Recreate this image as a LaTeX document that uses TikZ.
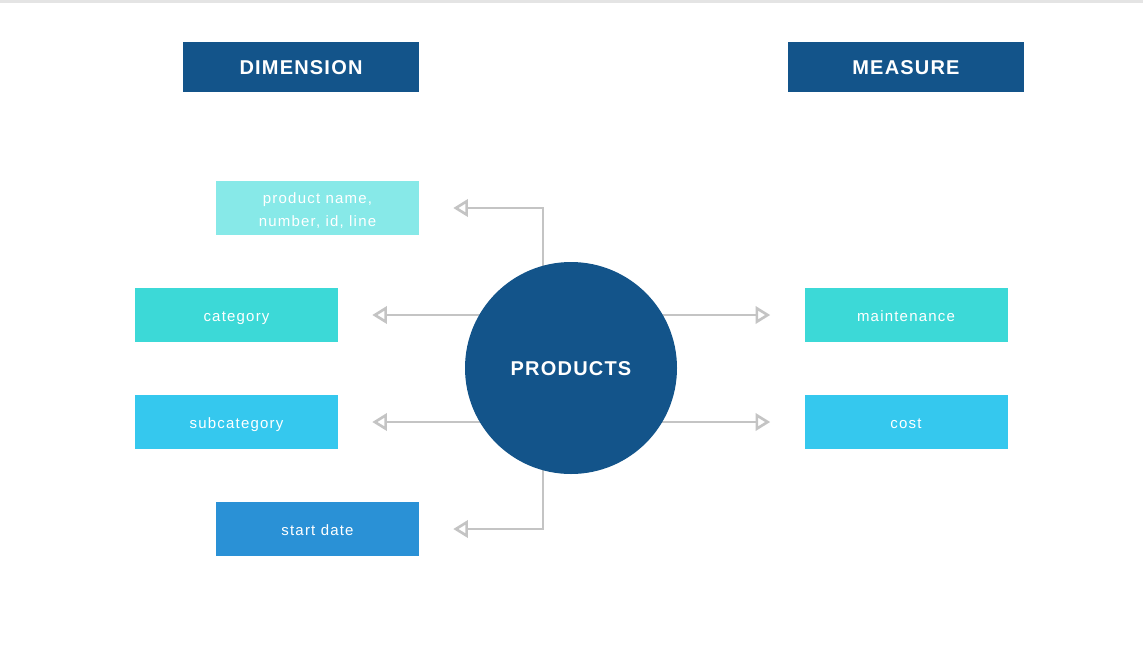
\documentclass[tikz,border=0pt]{standalone}
\usepackage{fontspec}
\setmainfont{Liberation Sans}
\newfontfamily\headfam[LetterSpace=6]{Liberation Sans}
\newfontfamily\itemfam[LetterSpace=8]{Liberation Sans}
\usetikzlibrary{arrows.meta,backgrounds}

\definecolor{darkblue}{HTML}{13548A}
\definecolor{palecyan}{HTML}{87E9E8}
\definecolor{midcyan}{HTML}{3CD9D7}
\definecolor{skyblue}{HTML}{35C8EE}
\definecolor{brightblue}{HTML}{2A91D6}
\definecolor{linkgray}{HTML}{C4C4C4}
\definecolor{bargray}{HTML}{E4E4E4}

\tikzset{
  head/.style={fill=darkblue, text=white, minimum width=177pt, minimum height=37.5pt,
    inner sep=0pt, text height=11pt, text depth=0pt,
    font=\headfam\bfseries\fontsize{15}{18}\selectfont},
  item/.style={text=white, minimum width=152.25pt, minimum height=40.5pt, inner sep=0pt,
    text height=10.25pt, text depth=0.5pt,
    align=center, font=\itemfam\fontsize{11.25}{17.25}\selectfont},
  link/.style={draw=linkgray, line width=2pt,
    -{Triangle[open,length=11pt,width=13pt]}, shorten >=25.5pt},
}

\begin{document}
\begin{tikzpicture}[x=0.75pt,y=-0.75pt]
  \useasboundingbox (0,0) rectangle (1143,647);
  \fill[bargray] (0,0) rectangle (1143,3);

  \node[head] (dim) at (301,67) {DIMENSION};
  \node[head] (meas) at (906,67) {MEASURE};

  \node[circle, fill=darkblue, minimum size=159pt, inner sep=0pt, text=white,
    text height=11pt, text depth=0pt,
    font=\headfam\bfseries\fontsize{15}{18}\selectfont] (prod) at (571,368) {PRODUCTS};

  \node[item, fill=palecyan, text height=27.5pt, text depth=0pt] (pname) at (317.5,208) {product name,\\number, id, line};
  \node[item, fill=midcyan] (cat) at (236.5,315) {category};
  \node[item, fill=skyblue] (subcat) at (236.5,422) {subcategory};
  \node[item, fill=brightblue] (start) at (317.5,529) {start date};
  \node[item, fill=midcyan] (maint) at (906,315) {maintenance};
  \node[item, fill=skyblue] (cost) at (906,422) {cost};

  \begin{scope}[on background layer]
    \draw[link] ([xshift=-21pt]prod.center) |- (pname.east);
    \draw[link] (prod.center |- cat.east) -- (cat.east);
    \draw[link] (prod.center |- subcat.east) -- (subcat.east);
    \draw[link] ([xshift=-21pt]prod.center) |- (start.east);
    \draw[link] (prod.center |- maint.west) -- (maint.west);
    \draw[link] (prod.center |- cost.west) -- (cost.west);
  \end{scope}
\end{tikzpicture}
\end{document}
